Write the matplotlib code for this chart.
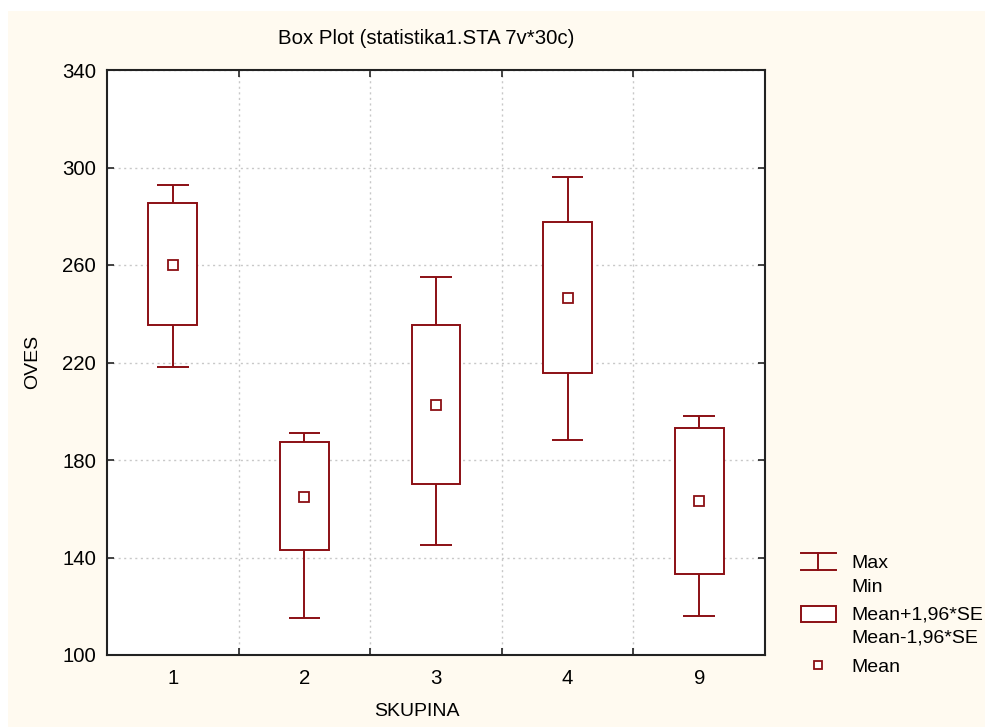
import matplotlib
matplotlib.use("Agg")
import matplotlib.pyplot as plt
from matplotlib.patches import Rectangle

plt.rcParams['font.family'] = ['Liberation Sans', 'DejaVu Sans']

# Data
groups = ["1", "2", "3", "4", "9"]
maxs = [293.0, 191.0, 255.0, 296.0, 198.0]
box_hi = [285.6, 187.4, 235.3, 277.8, 193.0]
means = [260.1, 164.9, 202.4, 246.3, 163.1]
box_lo = [235.3, 142.9, 170.0, 215.6, 133.2]
mins = [218.0, 115.2, 145.1, 188.1, 116.1]
yticks = [100, 140, 180, 220, 260, 300, 340]

red = '#8b0f14'
bg = '#fffaf0'
W, H = 985, 727
fig = plt.figure(figsize=(W / 100, H / 100), dpi=100, facecolor='white')
fig.patches.append(Rectangle((8 / W, 0), 1 - 8 / W, 1 - 11 / H, transform=fig.transFigure,
                             facecolor=bg, edgecolor='none', zorder=-10))

ax = fig.add_axes([107 / W, 1 - 655 / H, (765 - 107) / W, (655 - 70) / H])
ax.set_facecolor('white')
pos = list(range(1, len(groups) + 1))
ax.set_xlim(0.5, len(groups) + 0.5)
ax.set_ylim(100, 340)

bw, cw = 0.37, 0.24
lw = 1.4
for p, mx, bh, m, bl, mn in zip(pos, maxs, box_hi, means, box_lo, mins):
    ax.vlines(p, bh, mx, color=red, lw=lw, zorder=3)
    ax.vlines(p, mn, bl, color=red, lw=lw, zorder=3)
    ax.hlines([mx, mn], p - cw / 2, p + cw / 2, color=red, lw=lw, zorder=3)
ax.bar(pos, [h - l for h, l in zip(box_hi, box_lo)], bottom=box_lo, width=bw,
       facecolor='white', edgecolor=red, linewidth=lw, zorder=3)
ax.plot(pos, means, linestyle='none', marker='s', markersize=6.5, markerfacecolor='white',
        markeredgecolor=red, markeredgewidth=1.3, zorder=4)

# ticks
ax.set_yticks(yticks)
ax.set_yticklabels([str(v) for v in yticks], fontsize=14.7)
ax.set_xticks([p + 0.5 for p in pos[:-1]])
ax.set_xticklabels([])
ax.set_xticks(pos, minor=True)
ax.set_xticklabels(groups, minor=True, fontsize=14.7)
ax.tick_params(axis='both', which='major', direction='in', length=5, width=1.2,
               top=True, right=True, color='#222222')
ax.tick_params(axis='y', which='major', pad=8)
ax.tick_params(axis='x', which='minor', length=0, pad=10)
ax.grid(True, which='major', color='#c8c8c8', linestyle=(0, (1.5, 2.5)), linewidth=1.0)
for s in ax.spines.values():
    s.set_linewidth(1.5)
    s.set_color('#222222')

fig.text(426 / W, 1 - 38 / H, "Box Plot (statistika1.STA 7v*30c)", ha='center', va='center', fontsize=14.7)
fig.text(417 / W, 1 - 712 / H, "SKUPINA", ha='center', va='center', fontsize=14)
fig.text(33 / W, 1 - 362 / H, "OVES", ha='center', va='center', rotation=90, fontsize=14)

# legend drawn in pixel coordinates
lg = fig.add_axes([0, 0, 1, 1], facecolor='none')
lg.set_xlim(0, W)
lg.set_ylim(H, 0)
lg.axis('off')
lg.plot([801, 836], [553, 553], color=red, lw=lw)
lg.plot([801, 836], [570, 570], color=red, lw=lw)
lg.plot([818, 818], [553, 570], color=red, lw=lw)
lg.add_patch(Rectangle((801, 606), 35, 16, facecolor='white', edgecolor=red, lw=lw))
lg.plot([818], [665], marker='s', markersize=6, markerfacecolor='white',
        markeredgecolor=red, markeredgewidth=1.3, linestyle='none')
for y, t in [(563, "Max"), (587, "Min"), (615, "Mean+1,96*SE"), (638, "Mean-1,96*SE"), (667, "Mean")]:
    lg.text(851, y, t, ha='left', va='center', fontsize=14)

fig.savefig("out.png", dpi=100, facecolor='white')
